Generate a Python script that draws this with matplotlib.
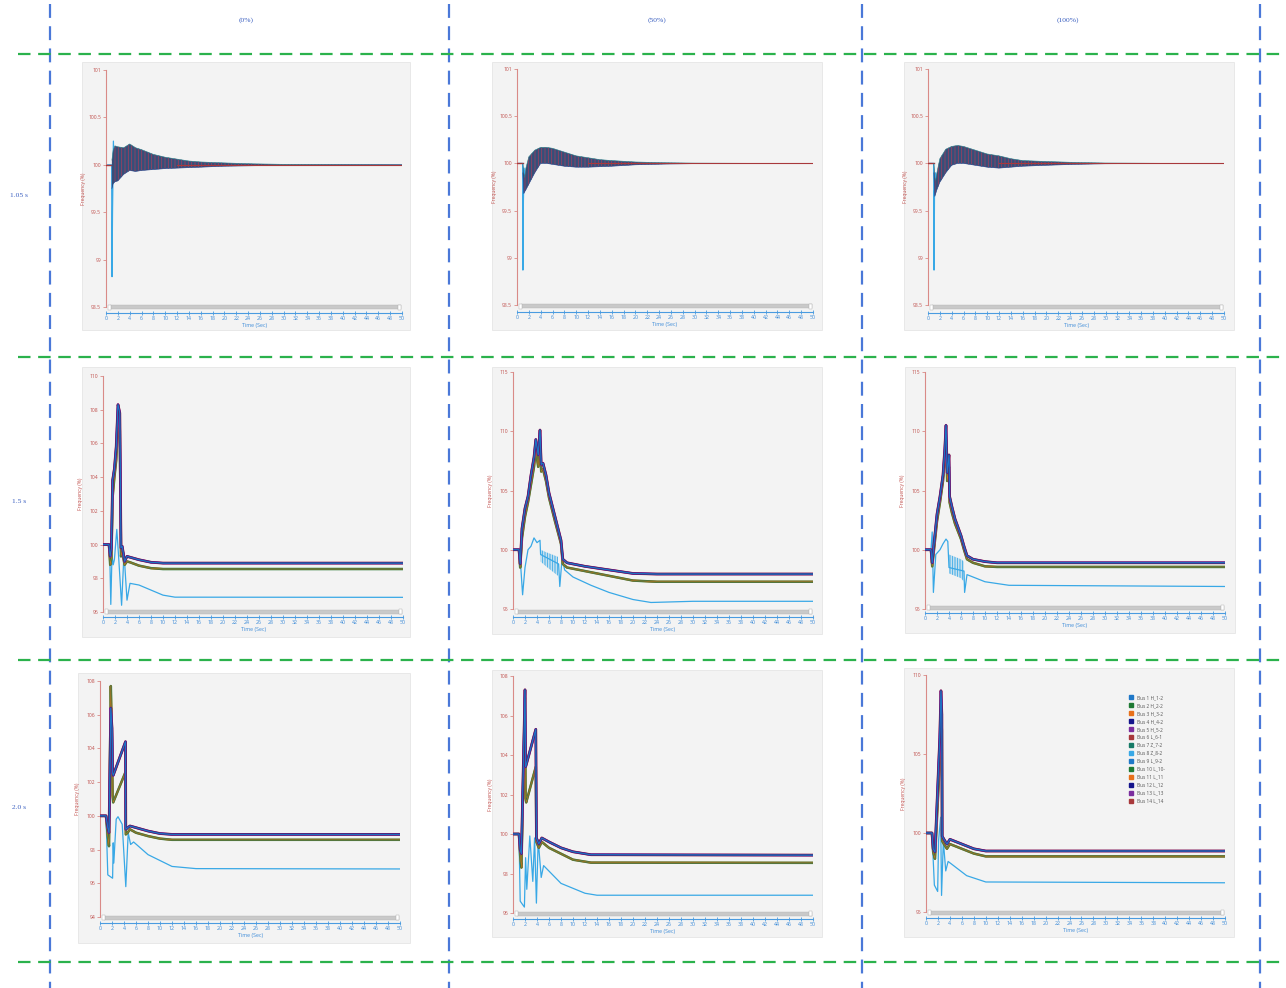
import matplotlib
matplotlib.use("Agg")
import matplotlib.pyplot as plt
from matplotlib.patches import Rectangle
from matplotlib.lines import Line2D

plt.rcParams['font.family'] = ['Open Sans', 'DejaVu Sans']
plt.rcParams['hatch.linewidth'] = 0.6
plt.rcParams['lines.scale_dashes'] = False

W, H = 1286, 988

col_labels = ["(0%)", "(50%)", "(100%)"]
row_labels = ["1.05 s", "1.5 s", "2.0 s"]

bus_names = ["Bus 1 H_1-2", "Bus 2 H_2-2", "Bus 3 H_3-2", "Bus 4 H_4-2",
             "Bus 5 H_5-2", "Bus 6 L_6-1", "Bus 7 Z_7-2", "Bus 8 Z_8-2",
             "Bus 9 L_9-2", "Bus 10 L_10-", "Bus 11 L_11", "Bus 12 L_12",
             "Bus 13 L_13", "Bus 14 L_14"]
bus_colors = ["#1f78c8", "#1e7a34", "#e8701a", "#14148c", "#7b2d9e", "#a8383b",
              "#157a66", "#38a8e6", "#1f78c8", "#1e7a34", "#e8701a", "#14148c",
              "#7b2d9e", "#a8383b"]
# which buses follow the upper / lower trajectory (bus 8 is drawn on its own)
hi_buses = [13, 4, 12, 3, 5, 11, 0, 8]
lo_buses = [9, 2, 6, 1, 10]

x_ticks = list(range(0, 51, 2))

# ---- row 1 : 1.05 s (oscillating band, envelopes)
p11_yticks = [98.5, 99, 99.5, 100, 100.5, 101]
p11_band_t = [1.0, 1.2, 1.5, 2, 3, 4, 5, 6, 8, 10, 12, 14, 16, 20, 25, 30, 40, 50]
p11_band_up = [100.05, 100.15, 100.2, 100.19, 100.18, 100.22, 100.18, 100.16, 100.11,
               100.08, 100.06, 100.04, 100.03, 100.02, 100.01, 100.005, 100.002, 100.0]
p11_band_lo = [99.75, 99.8, 99.82, 99.83, 99.9, 99.94, 99.93, 99.94, 99.95,
               99.96, 99.965, 99.97, 99.975, 99.985, 99.99, 99.995, 99.998, 100.0]
p11_b8_t = [0, 0.95, 1.02, 1.1, 1.25, 1.4, 1.6, 2.0]
p11_b8_f = [100, 100, 98.82, 99.5, 100.25, 99.9, 99.85, 100.0]

p12_yticks = [98.5, 99, 99.5, 100, 100.5, 101]
p12_band_t = [1.0, 1.15, 1.3, 1.5, 2, 3, 4, 5, 6, 8, 10, 12, 14, 16, 20, 25, 30, 40, 50]
p12_band_up = [100.0, 99.9, 99.85, 99.95, 100.07, 100.14, 100.17, 100.17, 100.16, 100.12,
               100.08, 100.06, 100.04, 100.03, 100.015, 100.007, 100.003, 100.001, 100.0]
p12_band_lo = [99.9, 99.68, 99.7, 99.72, 99.78, 99.9, 100.0, 100.0, 99.99, 99.97,
               99.96, 99.96, 99.965, 99.97, 99.985, 99.993, 99.997, 99.999, 100.0]
p12_b8_t = [0, 0.95, 1.0, 1.08, 1.2, 1.5]
p12_b8_f = [100, 100, 98.87, 99.6, 99.95, 99.8]

p13_yticks = [98.5, 99, 99.5, 100, 100.5, 101]
p13_band_t = [1.0, 1.15, 1.3, 1.5, 2, 3, 4, 5, 6, 8, 10, 12, 14, 16, 20, 25, 30, 40, 50]
p13_band_up = [100.0, 99.85, 99.82, 99.9, 100.05, 100.15, 100.18, 100.19, 100.18, 100.14,
               100.1, 100.08, 100.05, 100.03, 100.02, 100.01, 100.004, 100.001, 100.0]
p13_band_lo = [99.9, 99.65, 99.68, 99.72, 99.8, 99.9, 99.98, 100.0, 100.0, 99.98,
               99.96, 99.95, 99.96, 99.97, 99.98, 99.99, 99.996, 99.999, 100.0]
p13_b8_t = [0, 0.95, 1.02, 1.1, 1.25, 1.6]
p13_b8_f = [100, 100, 98.87, 99.7, 99.9, 99.8]

# ---- row 2 : 1.5 s
p21_yticks = [96, 98, 100, 102, 104, 106, 108, 110]
p21_t = [0, 1.0, 1.2, 1.4, 1.6, 1.9, 2.2, 2.5, 2.8, 3.0, 3.2, 3.6, 4.0, 4.5, 6, 8, 10, 14, 50]
p21_hi = [100, 100, 99.3, 99.8, 103.8, 104.5, 105.8, 108.3, 107.8, 99.8, 99.9, 99.0,
          99.3, 99.25, 99.1, 98.95, 98.9, 98.9, 98.9]
p21_lo = [100, 100, 98.8, 99.2, 102.8, 104.0, 105.0, 107.2, 106.8, 99.3, 99.6, 98.8,
          99.0, 98.95, 98.75, 98.6, 98.55, 98.55, 98.55]
p21_b8_t = [0, 1.0, 1.15, 1.3, 1.5, 1.7, 1.9, 2.3, 2.6, 3.1, 3.5, 4.0, 4.5, 6, 8, 10, 12, 50]
p21_b8_f = [100, 100, 99, 96.45, 99.4, 98.8, 99.1, 100.9, 99.3, 96.4, 99.5, 96.7,
            97.7, 97.6, 97.3, 97.0, 96.88, 96.87]

p22_yticks = [95, 100, 105, 110, 115]
p22_t = [0, 1.0, 1.2, 1.5, 2.0, 2.5, 3.0, 3.5, 3.8, 4.2, 4.5, 4.7, 5.0, 5.5, 6.0,
         7.0, 8.0, 8.3, 9, 12, 16, 20, 24, 50]
p22_hi = [100, 100, 98.8, 101.8, 103.5, 104.5, 106.3, 107.8, 109.3, 108.0, 110.1, 107.2,
          107.3, 106.3, 104.8, 102.8, 100.8, 99.2, 98.9, 98.6, 98.3, 98.0, 97.95, 97.95]
p22_lo = [100, 100, 98.5, 101.0, 102.8, 104.0, 105.5, 107.0, 108.5, 107.0, 108.8, 106.6,
          106.8, 105.8, 104.4, 102.4, 100.5, 98.8, 98.5, 98.2, 97.8, 97.4, 97.3, 97.3]
p22_b8_t = [0, 1.0, 1.3, 1.6, 2.0, 2.5, 3.0, 3.5, 4.0, 4.5, 4.6, 7.6, 7.8, 8.2, 8.6,
            10, 13, 16, 20, 23, 30, 50]
p22_b8_f = [100, 100, 98.5, 96.2, 98.5, 100.0, 100.3, 101.0, 100.6, 100.8, 99.6, 98.8,
            96.9, 99.4, 98.3, 97.7, 97.0, 96.4, 95.8, 95.55, 95.65, 95.65]
p22_b8_band_t = [4.6, 5.5, 6.5, 7.5]
p22_b8_band_up = [100.0, 99.8, 99.6, 99.4]
p22_b8_band_lo = [99.0, 98.6, 98.2, 97.8]

p23_yticks = [95, 100, 105, 110, 115]
p23_t = [0, 1.0, 1.2, 1.5, 2.0, 2.5, 3.0, 3.3, 3.5, 3.7, 4.0, 4.1, 4.5, 5.0, 6.0,
         6.5, 7.0, 8.0, 10, 12, 50]
p23_hi = [100, 100, 98.9, 100.5, 103.0, 104.5, 106.3, 108.5, 110.5, 106.5, 108.0, 104.5,
          103.6, 102.6, 101.2, 100.3, 99.5, 99.2, 99.0, 98.9, 98.9]
p23_lo = [100, 100, 98.6, 100.0, 102.4, 104.0, 105.8, 107.8, 109.3, 105.8, 107.0, 104.0,
          103.1, 102.2, 100.9, 100.0, 99.2, 98.9, 98.6, 98.55, 98.55]
p23_b8_t = [0, 1.0, 1.2, 1.4, 1.8, 2.5, 3.0, 3.5, 3.8, 4.0, 6.5, 6.6, 7.0, 8.0, 10, 14, 50]
p23_b8_f = [100, 100, 101.5, 96.4, 99.6, 100.0, 100.5, 100.9, 100.7, 98.5, 98.2, 96.4,
            97.9, 97.7, 97.3, 97.0, 96.9]
p23_b8_band_t = [4.0, 5.0, 6.0, 6.5]
p23_b8_band_up = [99.6, 99.4, 99.2, 99.0]
p23_b8_band_lo = [98.0, 97.8, 97.6, 97.3]

# ---- row 3 : 2.0 s
p31_yticks = [94, 96, 98, 100, 102, 104, 106, 108]
p31_t = [0, 1.0, 1.3, 1.5, 1.8, 2.0, 2.1, 2.2, 4.25, 4.3, 4.6, 5.0, 6, 8, 10, 12, 50]
p31_hi = [100, 100, 99.3, 99.0, 106.4, 105.2, 102.6, 102.4, 104.4, 99.2, 99.3, 99.4,
          99.3, 99.1, 98.95, 98.9, 98.9]
p31_lo = [100, 100, 98.8, 98.2, 107.7, 104.5, 101.2, 100.8, 102.6, 98.9, 99.0, 99.2,
          99.0, 98.8, 98.65, 98.58, 98.58]
p31_b8_t = [0, 1.0, 1.3, 2.1, 2.2, 2.3, 2.7, 3.0, 3.7, 4.3, 4.7, 5.1, 5.6, 8, 12, 16, 50]
p31_b8_f = [100, 100, 96.5, 96.3, 98.4, 97.2, 99.8, 99.95, 99.5, 95.8, 99.0, 98.3,
            98.45, 97.7, 97.0, 96.87, 96.85]

p32_yticks = [96, 98, 100, 102, 104, 106, 108]
p32_t = [0, 1.0, 1.2, 1.4, 2.0, 2.1, 2.2, 3.8, 3.9, 4.3, 4.8, 6, 8, 10, 13, 50]
p32_hi = [100, 100, 99.2, 99.0, 107.3, 103.4, 103.5, 105.3, 99.8, 99.5, 99.8, 99.6,
          99.3, 99.1, 98.95, 98.93]
p32_lo = [100, 100, 98.9, 98.3, 106.9, 101.8, 101.6, 103.4, 99.6, 99.3, 99.6, 99.3,
          99.0, 98.7, 98.55, 98.54]
p32_b8_t = [0, 1.0, 1.2, 1.9, 2.1, 2.3, 2.8, 3.3, 3.6, 3.9, 4.2, 4.7, 5.1, 8, 12, 14, 50]
p32_b8_f = [100, 100, 96.6, 96.3, 98.8, 97.2, 99.9, 97.6, 99.8, 96.5, 99.7, 97.8,
            98.4, 97.5, 97.0, 96.9, 96.9]

p33_yticks = [95, 100, 105, 110]
p33_t = [0, 1.0, 1.2, 1.5, 2.3, 2.5, 2.65, 2.7, 3.0, 3.5, 4.0, 6, 8, 10, 50]
p33_hi = [100, 100, 99.0, 98.8, 106.0, 109.0, 107.5, 99.8, 99.6, 99.3, 99.6, 99.3,
          99.0, 98.86, 98.86]
p33_lo = [100, 100, 98.8, 98.37, 104.5, 107.8, 106.5, 99.5, 99.3, 99.0, 99.3, 99.0,
          98.7, 98.52, 98.52]
p33_b8_t = [0, 1.0, 1.4, 1.95, 2.1, 2.45, 2.6, 2.9, 3.3, 3.7, 6.8, 10, 50]
p33_b8_f = [100, 100, 96.7, 96.3, 99.5, 101.0, 96.05, 99.5, 97.6, 98.2, 97.3, 96.9, 96.85]

# layout in pixels: axis box (x at t=0, x at t=50, y of top tick, y of bottom tick, y of time axis)
axes_px = [
    [(106, 402, 70, 307, 313), (517, 813, 69, 305, 312), (928, 1224, 69, 305, 313)],
    [(103, 403, 376, 612, 617), (513, 813, 372, 609, 617), (925, 1225, 372, 609, 613)],
    [(100, 400, 681, 917, 923), (513, 813, 676, 913, 919), (926, 1225, 675, 912, 918)],
]
panel_bg = [
    [(82, 62, 410, 330), (492, 62, 822, 330), (904, 62, 1234, 330)],
    [(82, 367, 410, 637), (492, 367, 822, 634), (905, 367, 1235, 633)],
    [(78, 673, 410, 943), (492, 670, 822, 937), (904, 668, 1234, 937)],
]

RED = "#c0504d"
RED_AX = "#d98a87"
BLUE_AX = "#4a9be0"
HEAD = "#3a5fc0"


def frac(x0, y0, x1, y1):
    return [x0 / W, 1 - y1 / H, (x1 - x0) / W, (y1 - y0) / H]


def fmt(v):
    return ("%g" % v)


def setup_axes(px, yticks):
    xl, xr, yt, yb, xa = px
    ax = fig.add_axes(frac(xl, yt, xr, yb))
    ax.set_facecolor("none")
    ax.set_xlim(0, 50)
    ax.set_ylim(yticks[0], yticks[-1])
    for s in ["top", "right"]:
        ax.spines[s].set_visible(False)
    ax.spines["left"].set_color(RED_AX)
    ax.spines["left"].set_linewidth(0.8)
    ax.spines["bottom"].set_color(BLUE_AX)
    ax.spines["bottom"].set_linewidth(0.8)
    ax.spines["bottom"].set_position(("outward", (xa - yb) * 0.72))
    ax.set_yticks(yticks)
    ax.set_yticklabels([fmt(v) for v in yticks])
    ax.set_xticks(x_ticks)
    ax.tick_params(axis="y", colors=RED_AX, labelcolor=RED, labelsize=3.6,
                   length=2.5, width=0.6, pad=1)
    ax.tick_params(axis="x", colors=BLUE_AX, labelcolor="#3a8ad8", labelsize=3.8,
                   length=2.5, width=0.6, direction="inout", pad=1.2)
    ax.set_ylabel("Frequency (%)", color=RED, fontsize=3.6)
    ax.yaxis.set_label_coords(-0.068, 0.5)
    ax.set_xlabel("Time (Sec)", color="#3a8ad8", fontsize=3.8, labelpad=1.2)
    # scrollbar of the original viewer
    hpx = yb - yt
    y0 = -(xa - 3.5 - yb) / hpx
    ax.add_patch(Rectangle((0.012, y0), 0.985, 4.0 / hpx, transform=ax.transAxes,
                           facecolor="#c9c9c9", edgecolor="#b5b5b5", linewidth=0.3,
                           clip_on=False, zorder=5))
    for xe in (0.012, 0.992):
        ax.add_patch(Rectangle((xe - 0.004, y0 - 0.5 / hpx), 0.009, 5.0 / hpx,
                               transform=ax.transAxes, facecolor="white",
                               edgecolor="#aaaaaa", linewidth=0.3, clip_on=False, zorder=6))
    return ax


def draw_group(ax, t, f, buses, lw_max):
    n = len(buses)
    for k, b in enumerate(buses):
        lw = lw_max - (lw_max - 0.4) * k / max(n - 1, 1)
        ax.plot(t, f, color=bus_colors[b], lw=lw, zorder=3)


fig = plt.figure(figsize=(W / 100, H / 100), dpi=100)
bg = fig.add_axes([0, 0, 1, 1])
bg.set_xlim(0, W)
bg.set_ylim(H, 0)
bg.axis("off")

for row in panel_bg:
    for (x0, y0, x1, y1) in row:
        bg.add_patch(Rectangle((x0, y0), x1 - x0, y1 - y0, facecolor="#f3f3f3",
                               edgecolor="#e6e6e6", linewidth=0.6))

for xv in [50, 449, 862, 1260]:
    bg.plot([xv, xv], [4, H], color="#4a78d8", lw=1.6, dashes=(10, 6))
for yv in [54, 357, 660, 962]:
    bg.plot([18, W], [yv, yv], color="#2bb24c", lw=1.6, dashes=(9, 5.5))

for x, lab in zip([246, 657, 1068], col_labels):
    bg.text(x, 20, lab, ha="center", va="center", fontsize=5.4, color=HEAD,
            family="Liberation Serif")
for y, lab in zip([195, 501, 807], row_labels):
    bg.text(19, y, lab, ha="center", va="center", fontsize=5.4, color=HEAD,
            family="Liberation Serif")

# row 1
row1 = [(p11_yticks, p11_band_t, p11_band_up, p11_band_lo, p11_b8_t, p11_b8_f),
        (p12_yticks, p12_band_t, p12_band_up, p12_band_lo, p12_b8_t, p12_b8_f),
        (p13_yticks, p13_band_t, p13_band_up, p13_band_lo, p13_b8_t, p13_b8_f)]
for c, (yt, bt, bu, bl, b8t, b8f) in enumerate(row1):
    ax = setup_axes(axes_px[0][c], yt)
    ax.plot([0, bt[0]], [100, 100], color=bus_colors[13], lw=1.0, zorder=3)
    ax.plot(b8t, b8f, color=bus_colors[7], lw=0.9, zorder=2)
    ax.fill_between(bt, bl, bu, facecolor="#33507a", edgecolor="#9c3f60",
                    hatch="|||||", linewidth=0, zorder=3)
    ax.plot(bt, bu, color="#2a7f8a", lw=0.4, zorder=4)
    ax.plot(bt, bl, color="#1f3f88", lw=0.4, zorder=4)
    ax.plot([bt[-8], bt[-1]], [100, 100], color=bus_colors[13], lw=0.8, zorder=4)

# rows 2 and 3
rows23 = [
    [(p21_yticks, p21_t, p21_hi, p21_lo, p21_b8_t, p21_b8_f, None),
     (p22_yticks, p22_t, p22_hi, p22_lo, p22_b8_t, p22_b8_f,
      (p22_b8_band_t, p22_b8_band_up, p22_b8_band_lo)),
     (p23_yticks, p23_t, p23_hi, p23_lo, p23_b8_t, p23_b8_f,
      (p23_b8_band_t, p23_b8_band_up, p23_b8_band_lo))],
    [(p31_yticks, p31_t, p31_hi, p31_lo, p31_b8_t, p31_b8_f, None),
     (p32_yticks, p32_t, p32_hi, p32_lo, p32_b8_t, p32_b8_f, None),
     (p33_yticks, p33_t, p33_hi, p33_lo, p33_b8_t, p33_b8_f, None)],
]
for r, row in enumerate(rows23):
    for c, (yt, t, hi, lo, b8t, b8f, b8band) in enumerate(row):
        ax = setup_axes(axes_px[r + 1][c], yt)
        ax.plot(b8t, b8f, color=bus_colors[7], lw=0.9, zorder=2)
        if b8band is not None:
            ax.fill_between(b8band[0], b8band[2], b8band[1], facecolor="none",
                            edgecolor=bus_colors[7], hatch="||||||||||", linewidth=0,
                            zorder=2)
        draw_group(ax, t, lo, lo_buses, 1.8)
        draw_group(ax, t, hi, hi_buses, 2.0)
        if r == 1 and c == 2:
            handles = [Line2D([], [], marker="s", linestyle="none", markersize=2.6,
                              color=bus_colors[i]) for i in range(len(bus_names))]
            ax.legend(handles, bus_names, loc="upper left", bbox_to_anchor=(0.68, 0.915),
                      frameon=False, fontsize=3.4, labelspacing=0.62, borderpad=0,
                      borderaxespad=0, handlelength=0.8, handletextpad=0.8,
                      labelcolor="#555555")

fig.savefig("out.png", dpi=100)
